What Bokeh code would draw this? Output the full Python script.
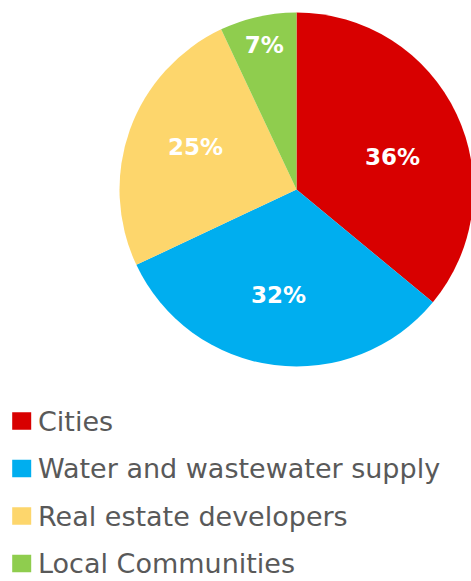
import math
from bokeh.plotting import figure
from bokeh.models import Range1d, ColumnDataSource
from bokeh.core.properties import value
from bokeh.embed import file_html
from bokeh.resources import INLINE

categories = ["Cities", "Water and wastewater supply", "Real estate developers", "Local Communities"]
shares = [36, 32, 25, 7]
labels = ["36%", "32%", "25%", "7%"]
colors = ["#D80000", "#00AEEF", "#FDD66C", "#8FCD4E"]

# label placement style (radius fraction, angular nudge in degrees)
label_radius_frac = [0.573, 0.607, 0.619, 0.837]
label_angle_nudge = [6.5, 2.4, 3.0, 0.0]

W, H = 471, 581
p = figure(width=W, height=H, output_backend="svg", toolbar_location=None,
           x_range=Range1d(0, W), y_range=Range1d(-H, 0),
           min_border=0)
p.axis.visible = False
p.grid.visible = False
p.outline_line_color = None
p.background_fill_color = "white"
p.border_fill_color = "white"

cx, cy, R = 296, -189, 177
LFS = 23  # data label font size
total = sum(shares)
starts, ends, lx, ly = [], [], [], []
acc = 0
for s, f, nud in zip(shares, label_radius_frac, label_angle_nudge):
    a0 = math.pi / 2 - 2 * math.pi * acc / total
    a1 = math.pi / 2 - 2 * math.pi * (acc + s) / total
    starts.append(a0)
    ends.append(a1)
    mid = (a0 + a1) / 2 - math.radians(nud)
    lx.append(cx + f * R * math.cos(mid))
    ly.append(cy + f * R * math.sin(mid))
    acc += s

src = ColumnDataSource(dict(start=starts, end=ends, color=colors, lx=lx, ly=ly, label=labels))
p.wedge(x=cx, y=cy, radius=R, start_angle="start", end_angle="end", direction="clock",
        fill_color="color", line_color=None, source=src)
p.text(x="lx", y="ly", text="label", source=src, text_color="white",
       text_font=value("DejaVu Sans"), text_font_style="bold", text_font_size=f"{LFS}px",
       text_align="center", text_baseline="middle")

row0, step = 420.5, 47.5
leg_y = [-(row0 + step * i) for i in range(len(categories))]
lsrc = ColumnDataSource(dict(y=leg_y, color=colors, name=categories))
p.rect(x=21.2, y="y", width=19, height=17.6, fill_color="color", line_color=None, source=lsrc)
p.text(x=37.5, y="y", text="name", source=lsrc, text_color="#595959",
       text_font=value("DejaVu Sans"), text_font_size="27px",
       text_align="left", text_baseline="middle")

open("out.html", "w").write(file_html(p, INLINE))
